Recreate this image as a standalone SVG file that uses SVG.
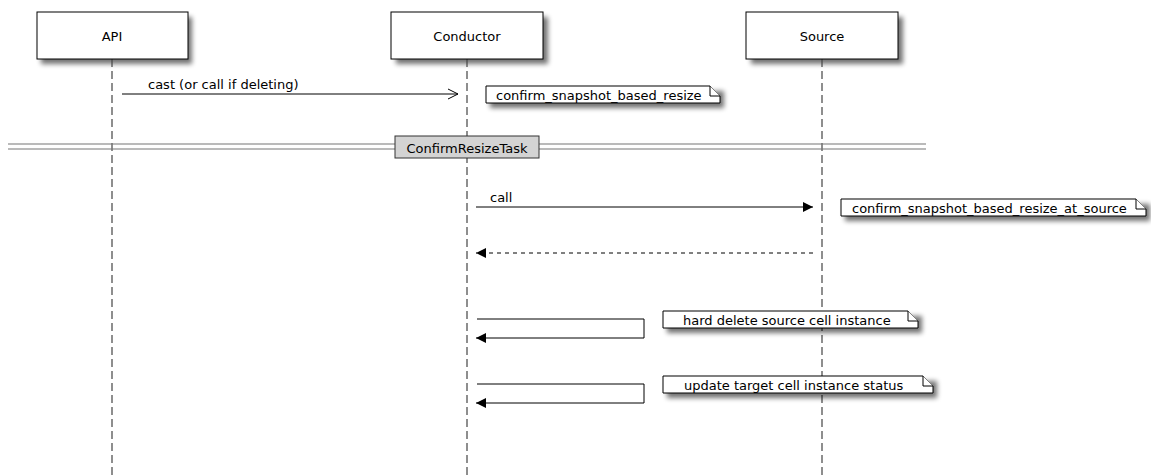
<svg xmlns="http://www.w3.org/2000/svg" width="1151" height="475" viewBox="0 0 1151 475">
<style>
  text { font-family: "DejaVu Sans", "Noto Sans", sans-serif; font-size: 13px; fill: #000; }
  .box { fill: #fff; stroke: #000; stroke-width: 1; }
  .shadow { fill: #000; opacity: 0.55; filter: url(#blur); }
  .life { stroke: #444; stroke-width: 1.2; stroke-dasharray: 8 4; fill: none; }
  .msg { stroke: #000; stroke-width: 1; fill: none; }
  .ret { stroke: #000; stroke-width: 1; fill: none; stroke-dasharray: 4 4; }
  .note { fill: #fff; stroke: #000; stroke-width: 1; }
  .sep { stroke: #777; stroke-width: 1.2; }
  .sepbox { fill: #d3d3d3; stroke: #333; stroke-width: 1; }
</style>
<defs>
  <filter id="blur" x="-20%" y="-60%" width="140%" height="220%">
    <feGaussianBlur stdDeviation="2.5"/>
  </filter>
  <marker id="solid" viewBox="0 0 10 10" refX="10" refY="5" markerWidth="10" markerHeight="10" markerUnits="userSpaceOnUse" orient="auto">
    <path d="M0,0 L10,5 L0,10 z" fill="#000"/>
  </marker>
  <marker id="open" viewBox="0 0 12 12" refX="11" refY="6" markerWidth="12" markerHeight="12" markerUnits="userSpaceOnUse" orient="auto">
    <path d="M1,1 L11,6 L1,11" fill="none" stroke="#000" stroke-width="1"/>
  </marker>
</defs>
<rect x="0" y="0" width="1151" height="475" fill="#fff"/>

<g id="shadows">
  <rect class="shadow" x="41" y="17" width="151" height="47"/>
  <rect class="shadow" x="396" y="17" width="152" height="47"/>
  <rect class="shadow" x="751" y="17" width="152" height="47"/>
</g>

<g id="lifelines">
  <line class="life" x1="112" y1="59" x2="112" y2="475"/>
  <line class="life" x1="467" y1="59" x2="467" y2="475"/>
  <line class="life" x1="822" y1="59" x2="822" y2="475"/>
</g>

<g id="node-api">
  <rect class="box" x="37" y="12" width="151" height="47"/>
  <text x="112" y="41" text-anchor="middle">API</text>
</g>
<g id="node-conductor">
  <rect class="box" x="391" y="12" width="152" height="47"/>
  <text x="467" y="41" text-anchor="middle">Conductor</text>
</g>
<g id="node-source">
  <rect class="box" x="746" y="12" width="152" height="47"/>
  <text x="822" y="41" text-anchor="middle">Source</text>
</g>

<g id="separator">
  <line class="sep" x1="8" y1="144" x2="926" y2="144"/>
  <line class="sep" x1="8" y1="149" x2="926" y2="149"/>
  <rect class="sepbox" x="395" y="136" width="144" height="22"/>
  <text x="467" y="153" text-anchor="middle">ConfirmResizeTask</text>
</g>

<g id="connectors">
  <line class="msg" x1="122" y1="94" x2="458" y2="94" marker-end="url(#open)"/>
  <text x="148" y="89">cast (or call if deleting)</text>
  <line class="msg" x1="476" y1="207" x2="813" y2="207" marker-end="url(#solid)"/>
  <text x="490" y="202">call</text>
  <line class="ret" x1="813" y1="253" x2="476" y2="253" marker-end="url(#solid)"/>
  <polyline class="msg" points="477,319 644,319 644,338 476,338" marker-end="url(#solid)"/>
  <polyline class="msg" points="477,384 644,384 644,403 476,403" marker-end="url(#solid)"/>
</g>

<g id="note-1">
  <rect class="shadow" x="490" y="91" width="234" height="17"/>
  <path class="note" d="M486,86 L710,86 L720,96 L720,103 L486,103 Z"/>
  <path class="note" d="M710,86 L710,96 L720,96" fill="none"/>
  <text x="496" y="100">confirm_snapshot_based_resize</text>
</g>
<g id="note-2">
  <rect class="shadow" x="845" y="204" width="305" height="17"/>
  <path class="note" d="M841,199 L1136,199 L1146,209 L1146,216 L841,216 Z"/>
  <path class="note" d="M1136,199 L1136,209 L1146,209" fill="none"/>
  <text x="852" y="213">confirm_snapshot_based_resize_at_source</text>
</g>
<g id="note-3">
  <rect class="shadow" x="667" y="316" width="255" height="17"/>
  <path class="note" d="M663,311 L908,311 L918,321 L918,328 L663,328 Z"/>
  <path class="note" d="M908,311 L908,321 L918,321" fill="none"/>
  <text x="683" y="325">hard delete source cell instance</text>
</g>
<g id="note-4">
  <rect class="shadow" x="667" y="381" width="270" height="17"/>
  <path class="note" d="M663,376 L923,376 L933,386 L933,393 L663,393 Z"/>
  <path class="note" d="M923,376 L923,386 L933,386" fill="none"/>
  <text x="684" y="390">update target cell instance status</text>
</g>
</svg>
